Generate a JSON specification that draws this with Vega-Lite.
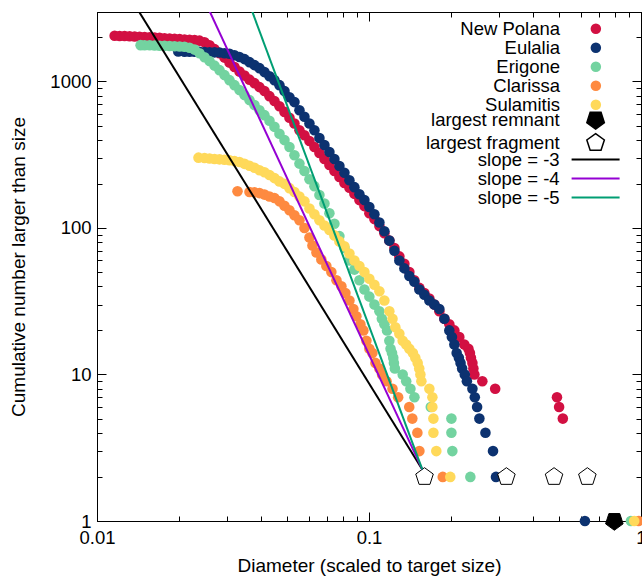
{
  "$schema": "https://vega.github.io/schema/vega-lite/v6.json",
  "width": 544,
  "height": 509,
  "autosize": {"type": "none"},
  "padding": {"left": 97, "top": 12, "right": 1, "bottom": 56},
  "background": "white",
  "config": {
    "view": {"stroke": "black", "strokeWidth": 1},
    "font": "Liberation Sans",
    "axis": {
      "grid": false, "domainColor": "black", "domainWidth": 1, "tickColor": "black", "tickWidth": 1,
      "labelColor": "black", "labelFont": "Liberation Sans", "labelFontSize": 18.5,
      "titleColor": "black", "titleFont": "Liberation Sans", "titleFontSize": 19, "titleFontWeight": "normal",
      "labelOverlap": false, "labelFlush": false
    },
    "legend": {"labelFont": "Liberation Sans", "labelFontSize": 18.5, "labelColor": "black", "labelLimit": 400}
  },
  "datasets": {
    "pts": [
      {"s":"New Polana","x":0.01161,"n":2050},{"s":"New Polana","x":0.01211,"n":2045},{"s":"New Polana","x":0.01263,"n":2042},{"s":"New Polana","x":0.01318,"n":2038},{"s":"New Polana","x":0.01375,"n":2030},{"s":"New Polana","x":0.01434,"n":2022},{"s":"New Polana","x":0.01496,"n":2012},{"s":"New Polana","x":0.01561,"n":2002},{"s":"New Polana","x":0.01628,"n":1994},{"s":"New Polana","x":0.01698,"n":1985},{"s":"New Polana","x":0.01771,"n":1975},{"s":"New Polana","x":0.01848,"n":1965},{"s":"New Polana","x":0.01928,"n":1955},{"s":"New Polana","x":0.02012,"n":1945},{"s":"New Polana","x":0.02098,"n":1935},{"s":"New Polana","x":0.02189,"n":1925},{"s":"New Polana","x":0.02284,"n":1920},{"s":"New Polana","x":0.02382,"n":1900},{"s":"New Polana","x":0.02485,"n":1853},{"s":"New Polana","x":0.02593,"n":1769},{"s":"New Polana","x":0.02705,"n":1662},{"s":"New Polana","x":0.02821,"n":1560},{"s":"New Polana","x":0.02943,"n":1455},{"s":"New Polana","x":0.0307,"n":1345},{"s":"New Polana","x":0.03203,"n":1254},{"s":"New Polana","x":0.03341,"n":1168},{"s":"New Polana","x":0.03486,"n":1097},{"s":"New Polana","x":0.03636,"n":1029},{"s":"New Polana","x":0.03793,"n":974},{"s":"New Polana","x":0.03957,"n":915},{"s":"New Polana","x":0.04128,"n":860},{"s":"New Polana","x":0.04306,"n":794},{"s":"New Polana","x":0.04492,"n":735},{"s":"New Polana","x":0.04686,"n":678},{"s":"New Polana","x":0.04889,"n":620},{"s":"New Polana","x":0.051,"n":566},{"s":"New Polana","x":0.0532,"n":516},{"s":"New Polana","x":0.0555,"n":465},{"s":"New Polana","x":0.0579,"n":430},{"s":"New Polana","x":0.0604,"n":392},{"s":"New Polana","x":0.063,"n":357},{"s":"New Polana","x":0.06573,"n":325},{"s":"New Polana","x":0.06857,"n":296},{"s":"New Polana","x":0.07153,"n":269},{"s":"New Polana","x":0.07462,"n":245},{"s":"New Polana","x":0.07785,"n":223},{"s":"New Polana","x":0.08121,"n":203},{"s":"New Polana","x":0.08472,"n":188},{"s":"New Polana","x":0.08838,"n":171},{"s":"New Polana","x":0.0922,"n":155},{"s":"New Polana","x":0.0962,"n":141},{"s":"New Polana","x":0.1003,"n":126},{"s":"New Polana","x":0.1047,"n":115},{"s":"New Polana","x":0.1092,"n":103},{"s":"New Polana","x":0.1139,"n":92},{"s":"New Polana","x":0.1188,"n":82},{"s":"New Polana","x":0.124,"n":73},{"s":"New Polana","x":0.1293,"n":64},{"s":"New Polana","x":0.1349,"n":57},{"s":"New Polana","x":0.1407,"n":50},{"s":"New Polana","x":0.1468,"n":44},{"s":"New Polana","x":0.1532,"n":39},{"s":"New Polana","x":0.1598,"n":36},{"s":"New Polana","x":0.1667,"n":33},{"s":"New Polana","x":0.1739,"n":30},{"s":"New Polana","x":0.1814,"n":27},{"s":"New Polana","x":0.1893,"n":24},{"s":"New Polana","x":0.1974,"n":22},{"s":"New Polana","x":0.206,"n":20},{"s":"New Polana","x":0.2148,"n":18},{"s":"New Polana","x":0.2241,"n":16},{"s":"New Polana","x":0.232,"n":15},{"s":"New Polana","x":0.235,"n":14},{"s":"New Polana","x":0.237,"n":13},{"s":"New Polana","x":0.24,"n":12},{"s":"New Polana","x":0.242,"n":11},{"s":"New Polana","x":0.244,"n":10},{"s":"New Polana","x":0.261,"n":9},{"s":"New Polana","x":0.291,"n":8},{"s":"New Polana","x":0.491,"n":7},{"s":"New Polana","x":0.5,"n":6},{"s":"New Polana","x":0.516,"n":5},
      {"s":"Eulalia","x":0.0199,"n":1600},{"s":"Eulalia","x":0.02098,"n":1598},{"s":"Eulalia","x":0.02189,"n":1596},{"s":"Eulalia","x":0.02284,"n":1594},{"s":"Eulalia","x":0.02382,"n":1592},{"s":"Eulalia","x":0.02485,"n":1590},{"s":"Eulalia","x":0.02593,"n":1585},{"s":"Eulalia","x":0.02705,"n":1580},{"s":"Eulalia","x":0.02821,"n":1575},{"s":"Eulalia","x":0.02943,"n":1560},{"s":"Eulalia","x":0.0307,"n":1545},{"s":"Eulalia","x":0.03203,"n":1512},{"s":"Eulalia","x":0.03341,"n":1470},{"s":"Eulalia","x":0.03486,"n":1421},{"s":"Eulalia","x":0.03636,"n":1355},{"s":"Eulalia","x":0.03793,"n":1293},{"s":"Eulalia","x":0.03957,"n":1233},{"s":"Eulalia","x":0.04128,"n":1159},{"s":"Eulalia","x":0.04306,"n":1087},{"s":"Eulalia","x":0.04492,"n":1021},{"s":"Eulalia","x":0.04686,"n":944},{"s":"Eulalia","x":0.04889,"n":860},{"s":"Eulalia","x":0.051,"n":781},{"s":"Eulalia","x":0.0532,"n":723},{"s":"Eulalia","x":0.0555,"n":637},{"s":"Eulalia","x":0.0579,"n":574},{"s":"Eulalia","x":0.0604,"n":516},{"s":"Eulalia","x":0.063,"n":465},{"s":"Eulalia","x":0.06573,"n":411},{"s":"Eulalia","x":0.06857,"n":368},{"s":"Eulalia","x":0.07153,"n":330},{"s":"Eulalia","x":0.07462,"n":296},{"s":"Eulalia","x":0.07785,"n":265},{"s":"Eulalia","x":0.08121,"n":238},{"s":"Eulalia","x":0.08472,"n":212},{"s":"Eulalia","x":0.08838,"n":190},{"s":"Eulalia","x":0.0922,"n":170},{"s":"Eulalia","x":0.0962,"n":155},{"s":"Eulalia","x":0.1003,"n":139},{"s":"Eulalia","x":0.1047,"n":124},{"s":"Eulalia","x":0.1092,"n":109},{"s":"Eulalia","x":0.1139,"n":95},{"s":"Eulalia","x":0.1188,"n":82},{"s":"Eulalia","x":0.124,"n":70},{"s":"Eulalia","x":0.1293,"n":60},{"s":"Eulalia","x":0.1349,"n":53},{"s":"Eulalia","x":0.1407,"n":47},{"s":"Eulalia","x":0.1468,"n":43},{"s":"Eulalia","x":0.1532,"n":38},{"s":"Eulalia","x":0.1598,"n":35},{"s":"Eulalia","x":0.1667,"n":32},{"s":"Eulalia","x":0.1739,"n":30},{"s":"Eulalia","x":0.1814,"n":28},{"s":"Eulalia","x":0.1893,"n":24},{"s":"Eulalia","x":0.1974,"n":20},{"s":"Eulalia","x":0.2017,"n":18},{"s":"Eulalia","x":0.206,"n":16},{"s":"Eulalia","x":0.21,"n":14},{"s":"Eulalia","x":0.214,"n":13},{"s":"Eulalia","x":0.217,"n":12},{"s":"Eulalia","x":0.22,"n":11},{"s":"Eulalia","x":0.225,"n":10},{"s":"Eulalia","x":0.229,"n":9},{"s":"Eulalia","x":0.24,"n":8},{"s":"Eulalia","x":0.2449,"n":7},{"s":"Eulalia","x":0.2497,"n":6},{"s":"Eulalia","x":0.2546,"n":5},{"s":"Eulalia","x":0.268,"n":4},{"s":"Eulalia","x":0.2857,"n":3},{"s":"Eulalia","x":0.293,"n":2},{"s":"Eulalia","x":0.622,"n":1},
      {"s":"Erigone","x":0.01446,"n":1770},{"s":"Erigone","x":0.01496,"n":1768},{"s":"Erigone","x":0.01561,"n":1765},{"s":"Erigone","x":0.01628,"n":1760},{"s":"Erigone","x":0.01698,"n":1755},{"s":"Erigone","x":0.01771,"n":1750},{"s":"Erigone","x":0.01848,"n":1745},{"s":"Erigone","x":0.01928,"n":1740},{"s":"Erigone","x":0.02012,"n":1735},{"s":"Erigone","x":0.02098,"n":1725},{"s":"Erigone","x":0.02189,"n":1700},{"s":"Erigone","x":0.02284,"n":1650},{"s":"Erigone","x":0.02382,"n":1560},{"s":"Erigone","x":0.02485,"n":1465},{"s":"Erigone","x":0.02593,"n":1377},{"s":"Erigone","x":0.02705,"n":1283},{"s":"Erigone","x":0.02821,"n":1195},{"s":"Erigone","x":0.02943,"n":1105},{"s":"Erigone","x":0.0307,"n":1021},{"s":"Erigone","x":0.03203,"n":944},{"s":"Erigone","x":0.03341,"n":873},{"s":"Erigone","x":0.03486,"n":807},{"s":"Erigone","x":0.03636,"n":746},{"s":"Erigone","x":0.03793,"n":690},{"s":"Erigone","x":0.03957,"n":637},{"s":"Erigone","x":0.04128,"n":589},{"s":"Erigone","x":0.04306,"n":540},{"s":"Erigone","x":0.04492,"n":490},{"s":"Erigone","x":0.04686,"n":440},{"s":"Erigone","x":0.04889,"n":398},{"s":"Erigone","x":0.051,"n":357},{"s":"Erigone","x":0.0532,"n":314},{"s":"Erigone","x":0.0555,"n":275},{"s":"Erigone","x":0.0579,"n":245},{"s":"Erigone","x":0.0604,"n":215},{"s":"Erigone","x":0.063,"n":193},{"s":"Erigone","x":0.06573,"n":168},{"s":"Erigone","x":0.06857,"n":147},{"s":"Erigone","x":0.07153,"n":126},{"s":"Erigone","x":0.07462,"n":107},{"s":"Erigone","x":0.07785,"n":88},{"s":"Erigone","x":0.08121,"n":73},{"s":"Erigone","x":0.08472,"n":60},{"s":"Erigone","x":0.08838,"n":52},{"s":"Erigone","x":0.0922,"n":44},{"s":"Erigone","x":0.0962,"n":38},{"s":"Erigone","x":0.1003,"n":34},{"s":"Erigone","x":0.1047,"n":30},{"s":"Erigone","x":0.1092,"n":27},{"s":"Erigone","x":0.1115,"n":24},{"s":"Erigone","x":0.1139,"n":22},{"s":"Erigone","x":0.1165,"n":20},{"s":"Erigone","x":0.1188,"n":17},{"s":"Erigone","x":0.12,"n":15},{"s":"Erigone","x":0.1215,"n":14},{"s":"Erigone","x":0.1228,"n":13},{"s":"Erigone","x":0.1235,"n":12},{"s":"Erigone","x":0.1245,"n":11},{"s":"Erigone","x":0.133,"n":10},{"s":"Erigone","x":0.137,"n":9},{"s":"Erigone","x":0.142,"n":8},{"s":"Erigone","x":0.1469,"n":7},{"s":"Erigone","x":0.1687,"n":6},{"s":"Erigone","x":0.2009,"n":5},{"s":"Erigone","x":0.2009,"n":4},{"s":"Erigone","x":0.2025,"n":3},{"s":"Erigone","x":0.2358,"n":2},{"s":"Erigone","x":0.918,"n":1},
      {"s":"Clarissa","x":0.03285,"n":178},{"s":"Clarissa","x":0.03636,"n":176},{"s":"Clarissa","x":0.03793,"n":175},{"s":"Clarissa","x":0.03957,"n":173},{"s":"Clarissa","x":0.04128,"n":169},{"s":"Clarissa","x":0.04306,"n":164},{"s":"Clarissa","x":0.04492,"n":160},{"s":"Clarissa","x":0.04686,"n":152},{"s":"Clarissa","x":0.04889,"n":142},{"s":"Clarissa","x":0.051,"n":132},{"s":"Clarissa","x":0.0532,"n":122},{"s":"Clarissa","x":0.0555,"n":113},{"s":"Clarissa","x":0.0579,"n":100},{"s":"Clarissa","x":0.0604,"n":86},{"s":"Clarissa","x":0.06196,"n":76},{"s":"Clarissa","x":0.06408,"n":68},{"s":"Clarissa","x":0.0668,"n":61},{"s":"Clarissa","x":0.06969,"n":55},{"s":"Clarissa","x":0.07271,"n":50},{"s":"Clarissa","x":0.07592,"n":44},{"s":"Clarissa","x":0.07917,"n":40},{"s":"Clarissa","x":0.08189,"n":36},{"s":"Clarissa","x":0.08472,"n":32},{"s":"Clarissa","x":0.08764,"n":28},{"s":"Clarissa","x":0.08989,"n":25},{"s":"Clarissa","x":0.09299,"n":22},{"s":"Clarissa","x":0.09537,"n":20},{"s":"Clarissa","x":0.09783,"n":17},{"s":"Clarissa","x":0.1003,"n":15},{"s":"Clarissa","x":0.1029,"n":14},{"s":"Clarissa","x":0.1056,"n":12},{"s":"Clarissa","x":0.1092,"n":11},{"s":"Clarissa","x":0.1117,"n":10},{"s":"Clarissa","x":0.116,"n":9},{"s":"Clarissa","x":0.122,"n":8},{"s":"Clarissa","x":0.128,"n":7},{"s":"Clarissa","x":0.1406,"n":6},{"s":"Clarissa","x":0.1443,"n":5},{"s":"Clarissa","x":0.1506,"n":4},{"s":"Clarissa","x":0.1532,"n":3},{"s":"Clarissa","x":0.1867,"n":2},{"s":"Clarissa","x":0.98,"n":1},
      {"s":"Sulamitis","x":0.02361,"n":302},{"s":"Sulamitis","x":0.02485,"n":300},{"s":"Sulamitis","x":0.02593,"n":298},{"s":"Sulamitis","x":0.02705,"n":296},{"s":"Sulamitis","x":0.02821,"n":294},{"s":"Sulamitis","x":0.02943,"n":292},{"s":"Sulamitis","x":0.0307,"n":290},{"s":"Sulamitis","x":0.03203,"n":286},{"s":"Sulamitis","x":0.03341,"n":282},{"s":"Sulamitis","x":0.03486,"n":274},{"s":"Sulamitis","x":0.03636,"n":266},{"s":"Sulamitis","x":0.03793,"n":258},{"s":"Sulamitis","x":0.03957,"n":248},{"s":"Sulamitis","x":0.04128,"n":240},{"s":"Sulamitis","x":0.04306,"n":230},{"s":"Sulamitis","x":0.04492,"n":219},{"s":"Sulamitis","x":0.04686,"n":208},{"s":"Sulamitis","x":0.04889,"n":200},{"s":"Sulamitis","x":0.051,"n":187},{"s":"Sulamitis","x":0.0532,"n":176},{"s":"Sulamitis","x":0.0555,"n":164},{"s":"Sulamitis","x":0.0579,"n":152},{"s":"Sulamitis","x":0.0604,"n":136},{"s":"Sulamitis","x":0.063,"n":124},{"s":"Sulamitis","x":0.06573,"n":113},{"s":"Sulamitis","x":0.06857,"n":104},{"s":"Sulamitis","x":0.07153,"n":97},{"s":"Sulamitis","x":0.07462,"n":89},{"s":"Sulamitis","x":0.07785,"n":81},{"s":"Sulamitis","x":0.08121,"n":75},{"s":"Sulamitis","x":0.08472,"n":67},{"s":"Sulamitis","x":0.08838,"n":60},{"s":"Sulamitis","x":0.0922,"n":55},{"s":"Sulamitis","x":0.0962,"n":50},{"s":"Sulamitis","x":0.1003,"n":45},{"s":"Sulamitis","x":0.1047,"n":41},{"s":"Sulamitis","x":0.1092,"n":37},{"s":"Sulamitis","x":0.1139,"n":32},{"s":"Sulamitis","x":0.1188,"n":27},{"s":"Sulamitis","x":0.122,"n":24},{"s":"Sulamitis","x":0.125,"n":21},{"s":"Sulamitis","x":0.1293,"n":19},{"s":"Sulamitis","x":0.133,"n":17},{"s":"Sulamitis","x":0.137,"n":16},{"s":"Sulamitis","x":0.1407,"n":15},{"s":"Sulamitis","x":0.145,"n":14},{"s":"Sulamitis","x":0.148,"n":13},{"s":"Sulamitis","x":0.151,"n":12},{"s":"Sulamitis","x":0.153,"n":11},{"s":"Sulamitis","x":0.1545,"n":10},{"s":"Sulamitis","x":0.1558,"n":9},{"s":"Sulamitis","x":0.1667,"n":8},{"s":"Sulamitis","x":0.171,"n":7},{"s":"Sulamitis","x":0.171,"n":6},{"s":"Sulamitis","x":0.1725,"n":5},{"s":"Sulamitis","x":0.1725,"n":4},{"s":"Sulamitis","x":0.1768,"n":3},{"s":"Sulamitis","x":0.199,"n":2},{"s":"Sulamitis","x":0.944,"n":1}
    ],
    "pent": [
      {"kind":"largest remnant","x":0.798,"n":1},
      {"kind":"largest fragment","x":0.16,"n":2},
      {"kind":"largest fragment","x":0.32,"n":2},
      {"kind":"largest fragment","x":0.479,"n":2},
      {"kind":"largest fragment","x":0.635,"n":2}
    ],
    "lines": [
      {"slope":"slope = -3","x":0.013,"n":3963},{"slope":"slope = -3","x":0.157,"n":2.25},
      {"slope":"slope = -4","x":0.024,"n":4120},{"slope":"slope = -4","x":0.157,"n":2.25},
      {"slope":"slope = -5","x":0.035,"n":4081},{"slope":"slope = -5","x":0.157,"n":2.25}
    ]
  },
  "resolve": {"axis": {"x": "independent", "y": "independent"}},
  "layer": [
    {
      "data": {"name": "pts"},
      "mark": {"type": "circle", "size": 112, "opacity": 1, "clip": false},
      "encoding": {
        "x": {"field": "x", "type": "quantitative",
          "scale": {"type": "log", "domain": [0.01, 1], "nice": false},
          "axis": {"orient": "bottom", "title": "Diameter (scaled to target size)",
            "values": [0.01,0.02,0.03,0.04,0.05,0.06,0.07,0.08,0.09,0.1,0.2,0.3,0.4,0.5,0.6,0.7,0.8,0.9,1],
            "format": "~g",
            "labelExpr": "abs(log(datum.value)/LN10 - round(log(datum.value)/LN10)) < 0.001 ? datum.label : ''",
            "tickSize": {"condition": {"test": "abs(log(datum.value)/LN10 - round(log(datum.value)/LN10)) < 0.001", "value": -9}, "value": -5},
            "labelPadding": 16, "titlePadding": 6}},
        "y": {"field": "n", "type": "quantitative",
          "scale": {"type": "log", "domain": [1, 2980], "nice": false},
          "axis": {"orient": "left", "title": "Cumulative number larger than size",
            "values": [1,2,3,4,5,6,7,8,9,10,20,30,40,50,60,70,80,90,100,200,300,400,500,600,700,800,900,1000,2000],
            "format": "~g",
            "labelExpr": "abs(log(datum.value)/LN10 - round(log(datum.value)/LN10)) < 0.001 ? datum.label : ''",
            "tickSize": {"condition": {"test": "abs(log(datum.value)/LN10 - round(log(datum.value)/LN10)) < 0.001", "value": -9}, "value": -5},
            "labelPadding": 15, "titlePadding": 21}},
        "color": {"field": "s", "type": "nominal",
          "scale": {"domain": ["New Polana","Eulalia","Erigone","Clarissa","Sulamitis"],
                    "range": ["#d21042","#0c3270","#73d3a0","#fe8a40","#ffd95a"]},
          "legend": {"orient": "none", "legendX": 489.6, "legendY": 7.5, "title": null,
            "symbolType": "circle", "symbolSize": 110, "labelAlign": "right", "labelOffset": -45, "rowPadding": -0.1}}
      }
    },
    {
      "data": {"name": "pent"},
      "mark": {"type": "point", "size": 340, "filled": true, "stroke": "black", "strokeWidth": 1, "opacity": 1, "clip": false},
      "encoding": {
        "x": {"field": "x", "type": "quantitative", "axis": null},
        "y": {"field": "n", "type": "quantitative", "axis": null},
        "shape": {"field": "kind", "type": "nominal",
          "scale": {"domain": ["largest remnant","largest fragment"],
                    "range": ["M0,1L0.951,0.309L0.588,-0.809L-0.588,-0.809L-0.951,0.309Z","M0,-1L0.951,-0.309L0.588,0.809L-0.588,0.809L-0.951,-0.309Z"]},
          "legend": {"orient": "none", "legendX": 488.6, "legendY": 97.8, "title": null, "labelAlign": "right", "labelOffset": -46, "rowPadding": -5, "symbolSize": 340,
            "encode": {"symbols": {"stroke": {"value": "black"}, "strokeWidth": {"value": 1}}}}},
        "fill": {"field": "kind", "type": "nominal",
          "scale": {"domain": ["largest remnant","largest fragment"], "range": ["black","white"]},
          "legend": {"orient": "none", "legendX": 488.6, "legendY": 97.8, "title": null, "labelAlign": "right", "labelOffset": -46, "rowPadding": -5, "symbolSize": 340,
            "encode": {"symbols": {"stroke": {"value": "black"}, "strokeWidth": {"value": 1}}}}}
      }
    },
    {
      "data": {"name": "lines"},
      "mark": {"type": "line", "strokeWidth": 2, "clip": true},
      "encoding": {
        "x": {"field": "x", "type": "quantitative",
          "axis": {"orient": "top", "title": null, "labels": false,
            "values": [0.01,0.02,0.03,0.04,0.05,0.06,0.07,0.08,0.09,0.1,0.2,0.3,0.4,0.5,0.6,0.7,0.8,0.9,1],
            "tickSize": {"condition": {"test": "abs(log(datum.value)/LN10 - round(log(datum.value)/LN10)) < 0.001", "value": -9}, "value": -5}}},
        "y": {"field": "n", "type": "quantitative",
          "axis": {"orient": "right", "title": null, "labels": false,
            "values": [1,2,3,4,5,6,7,8,9,10,20,30,40,50,60,70,80,90,100,200,300,400,500,600,700,800,900,1000,2000],
            "tickSize": {"condition": {"test": "abs(log(datum.value)/LN10 - round(log(datum.value)/LN10)) < 0.001", "value": -9}, "value": -5}}},
        "stroke": {"field": "slope", "type": "nominal",
          "scale": {"domain": ["slope = -3","slope = -4","slope = -5"], "range": ["black","#9400d3","#009e73"]},
          "legend": {"orient": "none", "legendX": 489.35, "legendY": 138.35, "title": null,
            "symbolType": "M-3,0L3,0", "symbolSize": 256, "symbolStrokeWidth": 2, "labelAlign": "right", "labelOffset": -45.25, "rowPadding": -0.1}}
      }
    }
  ]
}
